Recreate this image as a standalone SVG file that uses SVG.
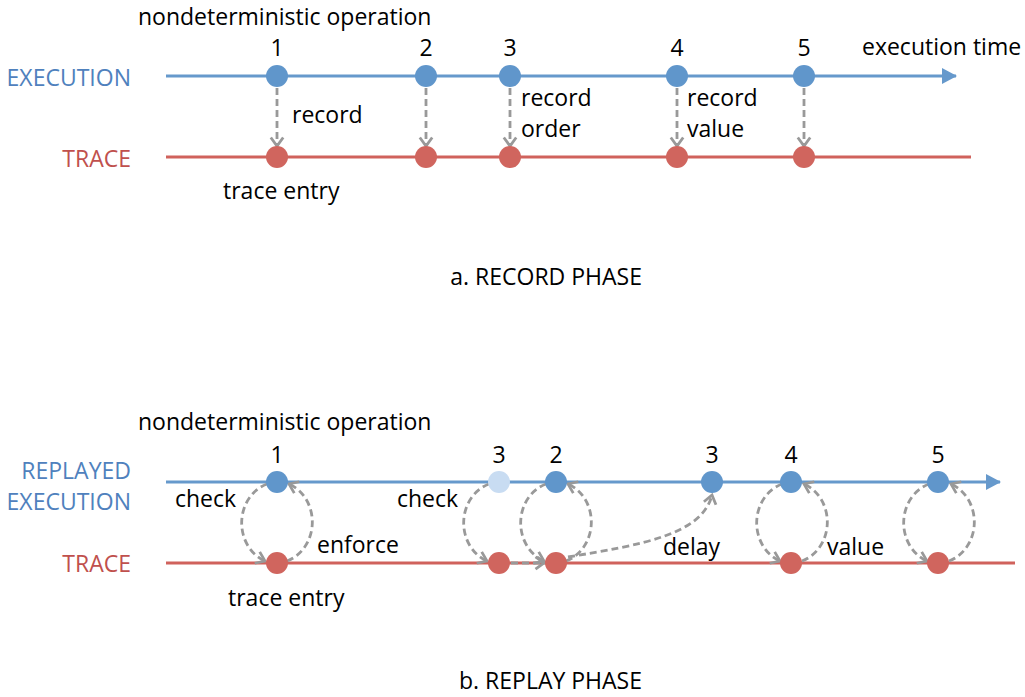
<svg xmlns="http://www.w3.org/2000/svg" width="1025" height="697" viewBox="0 0 1025 697">
<style>
text{font-family:"Open Sans","Liberation Sans",sans-serif;font-size:23px;fill:#000}
.lb{fill:#4F81BD}
.lr{fill:#C0504D}
.bl{stroke:#6699CC;stroke-width:3;fill:none}
.rl{stroke:#D0625C;stroke-width:3;fill:none}
.bn{fill:#6096CB}
.rn{fill:#D0655E}
.ln{fill:#C8DCF2}
.d{stroke:#999;stroke-width:2.8;fill:none;stroke-dasharray:7 4;marker-end:url(#ah)}
.m{text-anchor:middle}
.e{text-anchor:end}
</style>
<defs>
<marker id="ah" markerUnits="userSpaceOnUse" markerWidth="16" markerHeight="16" viewBox="0 0 16 16" refX="12" refY="8" orient="auto">
<path d="M3.5,1.8 L12,8 L3.5,14.2" fill="none" stroke="#999" stroke-width="2.8"/>
</marker>
<marker id="bah" markerUnits="userSpaceOnUse" markerWidth="18" markerHeight="18" viewBox="0 0 18 18" refX="15" refY="9" orient="auto">
<path d="M1,1 L16,9 L1,17 Z" fill="#6699CC"/>
</marker>
</defs>

<g id="part-a">
<text x="138" y="25">nondeterministic operation</text>
<text x="862" y="55">execution time</text>
<text class="lb e" x="131" y="86">EXECUTION</text>
<text class="lr e" x="131" y="167">TRACE</text>
<line class="bl" x1="166" y1="76" x2="956" y2="76" marker-end="url(#bah)"/>
<line class="rl" x1="166" y1="157" x2="971" y2="157"/>
</g>

<g id="connectors-a">
<line class="d" x1="277" y1="88" x2="277" y2="146"/>
<line class="d" x1="426" y1="88" x2="426" y2="146"/>
<line class="d" x1="510" y1="88" x2="510" y2="146"/>
<line class="d" x1="677" y1="88" x2="677" y2="146"/>
<line class="d" x1="804" y1="88" x2="804" y2="146"/>
</g>

<g id="a-op1"><circle class="bn" cx="277" cy="76" r="11"/><text class="m" x="277" y="56">1</text></g>
<g id="a-op2"><circle class="bn" cx="426" cy="76" r="11"/><text class="m" x="426" y="56">2</text></g>
<g id="a-op3"><circle class="bn" cx="510" cy="76" r="11"/><text class="m" x="510" y="56">3</text></g>
<g id="a-op4"><circle class="bn" cx="677" cy="76" r="11"/><text class="m" x="677" y="56">4</text></g>
<g id="a-op5"><circle class="bn" cx="804" cy="76" r="11"/><text class="m" x="804" y="56">5</text></g>
<g id="a-tr1"><circle class="rn" cx="277" cy="157" r="11"/><text x="223" y="199">trace entry</text></g>
<g id="a-tr2"><circle class="rn" cx="426" cy="157" r="11"/></g>
<g id="a-tr3"><circle class="rn" cx="510" cy="157" r="11"/></g>
<g id="a-tr4"><circle class="rn" cx="677" cy="157" r="11"/></g>
<g id="a-tr5"><circle class="rn" cx="804" cy="157" r="11"/></g>
<g id="a-labels">
<text x="292" y="123">record</text>
<text x="521" y="106">record</text>
<text x="521" y="137">order</text>
<text x="687" y="106">record</text>
<text x="687" y="137">value</text>
<text class="e" x="642" y="285">a. RECORD PHASE</text>
</g>

<g id="part-b">
<text x="138" y="430">nondeterministic operation</text>
<text class="lb e" x="131" y="479">REPLAYED</text>
<text class="lb e" x="131" y="510">EXECUTION</text>
<text class="lr e" x="131" y="572">TRACE</text>
<line class="bl" x1="166" y1="482" x2="1000" y2="482" marker-end="url(#bah)"/>
<line class="rl" x1="166" y1="563" x2="1015" y2="563"/>
</g>

<g id="connectors-b">
<path class="d" d="M267,484 A37,41 0 0 0 265,561"/>
<path class="d" d="M287,561 A37,41 0 0 0 289,484"/>
<path class="d" d="M489,484 A37,41 0 0 0 487,561"/>
<line class="d" x1="511" y1="563" x2="544" y2="563"/>
<path class="d" d="M546,484 A37,41 0 0 0 544,561"/>
<path class="d" d="M566,561 A37,41 0 0 0 568,484"/>
<path class="d" d="M568,557 C640,545 702,535 712,495"/>
<path class="d" d="M782,484 A37,41 0 0 0 780,561"/>
<path class="d" d="M802,561 A37,41 0 0 0 804,484"/>
<path class="d" d="M929,484 A37,41 0 0 0 927,561"/>
<path class="d" d="M949,561 A37,41 0 0 0 951,484"/>
</g>

<g id="b-op1"><circle class="bn" cx="277" cy="482" r="11"/><text class="m" x="277" y="463">1</text></g>
<g id="b-op3a"><circle class="ln" cx="499" cy="482" r="11"/><text class="m" x="499" y="463">3</text></g>
<g id="b-op2"><circle class="bn" cx="556" cy="482" r="11"/><text class="m" x="556" y="463">2</text></g>
<g id="b-op3"><circle class="bn" cx="712" cy="482" r="11"/><text class="m" x="712" y="463">3</text></g>
<g id="b-op4"><circle class="bn" cx="791" cy="482" r="11"/><text class="m" x="791" y="463">4</text></g>
<g id="b-op5"><circle class="bn" cx="938" cy="482" r="11"/><text class="m" x="938" y="463">5</text></g>
<g id="b-tr1"><circle class="rn" cx="277" cy="563" r="11"/><text x="228" y="606">trace entry</text></g>
<g id="b-tr3"><circle class="rn" cx="499" cy="563" r="11"/></g>
<g id="b-tr2"><circle class="rn" cx="556" cy="563" r="11"/></g>
<g id="b-tr4"><circle class="rn" cx="791" cy="563" r="11"/></g>
<g id="b-tr5"><circle class="rn" cx="938" cy="563" r="11"/></g>
<g id="b-labels">
<text x="175" y="507">check</text>
<text x="397" y="507">check</text>
<text x="317" y="553">enforce</text>
<text x="663" y="555">delay</text>
<text x="827" y="555">value</text>
<text class="e" x="642" y="689">b. REPLAY PHASE</text>
</g>
</svg>
